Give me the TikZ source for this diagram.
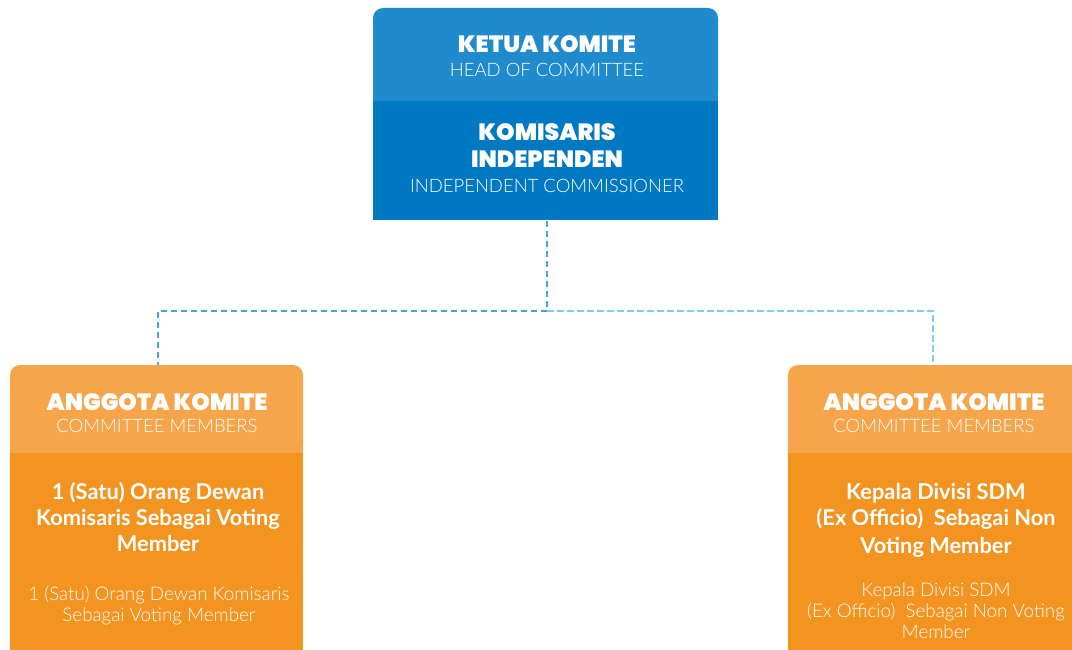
\documentclass[tikz,border=0pt]{standalone}
\usepackage{fontspec}
\setmainfont{Lato}
\IfFontExistsTF{Poppins Black}
  {\newfontfamily\headfont{Poppins Black}}
  {\IfFontExistsTF{Poppins ExtraBold}
    {\newfontfamily\headfont{Poppins ExtraBold}}
    {\newfontfamily\headfont{Poppins Bold}[FakeBold=1.5]}}
\IfFontExistsTF{Lato Light}
  {\newfontfamily\thinfont{Lato Light}}
  {\newfontfamily\thinfont{Lato}}
\usetikzlibrary{positioning}

\definecolor{headblue}{HTML}{1F8BCC}
\definecolor{bodyblue}{HTML}{0079C2}
\definecolor{headorange}{HTML}{F7A54A}
\definecolor{bodyorange}{HTML}{F39320}
\definecolor{dashleft}{HTML}{45A6DE}
\definecolor{dashright}{HTML}{80CCEF}

\tikzset{
  cardhead/.style={fill=#1, rounded corners=10pt, inner sep=0pt},
  cardbody/.style={fill=#1, inner sep=0pt},
  link/.style={line width=2.6pt, dash pattern=on 6.5pt off 3.5pt},
  tbig/.style={text=white, font=\headfont\fontsize{23.5}{28}\selectfont, align=center, anchor=base, inner sep=0pt},
  tsub/.style={text=white, font=\thinfont\fontsize{18.5}{21}\selectfont, anchor=base, inner sep=0pt},
  tbold/.style={text=white, font=\bfseries\fontsize{21.8}{26}\selectfont, align=center, anchor=base, inner sep=0pt},
  tlight/.style={text=white, font=\thinfont\fontsize{18.8}{21}\selectfont, align=center, anchor=base, inner sep=0pt}
}

\begin{document}
\begin{tikzpicture}[x=1pt,y=-1pt]
  \useasboundingbox (0,0) rectangle (1072,650);

  % head of committee
  \node[cardhead=headblue, minimum width=345pt, minimum height=93pt] (ketua) at (545.5,54.5) {};
  \node[cardbody=bodyblue, minimum width=345pt, minimum height=119pt, below=0pt of ketua] (komisaris) {};
  \fill[headblue] ([yshift=12pt]ketua.south west) rectangle (ketua.south east);

  % members
  \node[cardhead=headorange, minimum width=293pt, minimum height=88pt] (kiri) at (156.5,409) {};
  \node[cardbody=bodyorange, minimum width=293pt, minimum height=210pt, below=0pt of kiri] (kiribody) {};
  \fill[headorange] ([yshift=12pt]kiri.south west) rectangle (kiri.south east);

  \node[cardhead=headorange, minimum width=293pt, minimum height=88pt] (kanan) at (934.5,409) {};
  \node[cardbody=bodyorange, minimum width=293pt, minimum height=210pt, below=0pt of kanan] (kananbody) {};
  \fill[headorange] ([yshift=12pt]kanan.south west) rectangle (kanan.south east);

  % dashed links
  \coordinate (fork) at (547,311);
  \draw[link, dashleft] ([xshift=1.5pt]komisaris.south) -- (fork) -| ([xshift=1.5pt]kiri.north);
  \draw[link, dashright] (fork) -| ([xshift=-1.5pt]kanan.north);

  % texts (base = last line)
  \node[tbig] (t1) at (547,53) {KETUA KOMITE};
  \node[tsub] (t2) at (547,77) {HEAD OF COMMITTEE};
  \node[tbig] (t3) at (547,168) {KOMISARIS\\INDEPENDEN};
  \node[tsub] (t4) at (547,193) {INDEPENDENT COMMISSIONER};

  \node[tbig] (l1) at (157,410) {ANGGOTA KOMITE};
  \node[tsub] (l2) at (157,432) {COMMITTEE MEMBERS};
  \node[tbold] (l3) at (158,551) {1 (Satu) Orang Dewan\\Komisaris Sebagai Voting\\Member};
  \node[tlight] (l4) at (159,621) {1 (Satu) Orang Dewan Komisaris\\Sebagai Voting Member};

  \node[tbig] (r1) at (934,410) {ANGGOTA KOMITE};
  \node[tsub] (r2) at (934,432) {COMMITTEE MEMBERS};
  \node[tbold] (r3) at (936,553) {Kepala Divisi SDM\\(Ex Officio)\ \ Sebagai Non\\[1.5pt]Voting Member};
  \node[tlight] (r4) at (936,638) {Kepala Divisi SDM\\(Ex Officio)\ \ Sebagai Non Voting\\Member};
\end{tikzpicture}
\end{document}
